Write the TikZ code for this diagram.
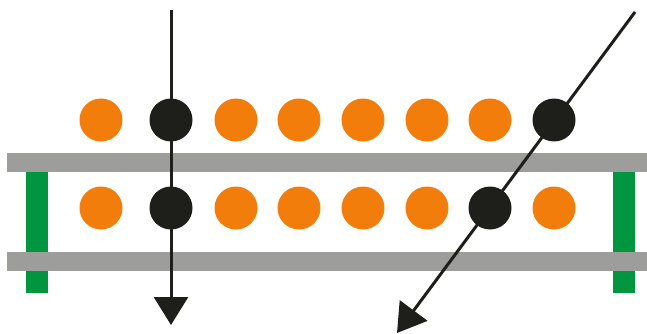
\documentclass[tikz,border=0pt]{standalone}
\usetikzlibrary{arrows.meta}
\definecolor{ora}{RGB}{243,125,10}
\definecolor{blk}{RGB}{30,30,26}
\definecolor{gry}{RGB}{157,157,156}
\definecolor{grn}{RGB}{0,150,64}
\begin{document}
\begin{tikzpicture}[x=1pt,y=-1pt,
  ball/.style={circle,minimum size=43pt,inner sep=0pt,fill=#1},
  bar/.style={fill=gry},
  post/.style={fill=grn},
  ray/.style={draw=blk,line width=3pt,-{Triangle[length=28pt,width=34pt]}}]
\useasboundingbox (0,0) rectangle (647,334);
% posts
\fill[post] (26,171) rectangle (48,293);
\fill[post] (613,171) rectangle (635,293);
% bars
\fill[bar] (7,153) rectangle (647,172);
\fill[bar] (7,252) rectangle (647,271);
% top row
\node[ball=ora] (a1) at (101,120) {};
\node[ball=blk] (a2) at (171,120) {};
\node[ball=ora] (a3) at (236,120) {};
\node[ball=ora] (a4) at (299,120) {};
\node[ball=ora] (a5) at (363,120) {};
\node[ball=ora] (a6) at (427,120) {};
\node[ball=ora] (a7) at (490,120) {};
\node[ball=blk] (a8) at (554,120) {};
% bottom row
\node[ball=ora] (b1) at (101,208) {};
\node[ball=blk] (b2) at (171,208) {};
\node[ball=ora] (b3) at (236,208) {};
\node[ball=ora] (b4) at (299,208) {};
\node[ball=ora] (b5) at (363,208) {};
\node[ball=ora] (b6) at (427,208) {};
\node[ball=blk] (b7) at (490,208) {};
\node[ball=ora] (b8) at (554,208) {};
% rays
\coordinate (s1) at (171,10);
\coordinate (e1) at (171,325);
\coordinate (s2) at (635,12);
\coordinate (e2) at (397,333);
\draw[ray] (s1) -- (e1);
\draw[ray] (s2) -- (e2);
\end{tikzpicture}
\end{document}
